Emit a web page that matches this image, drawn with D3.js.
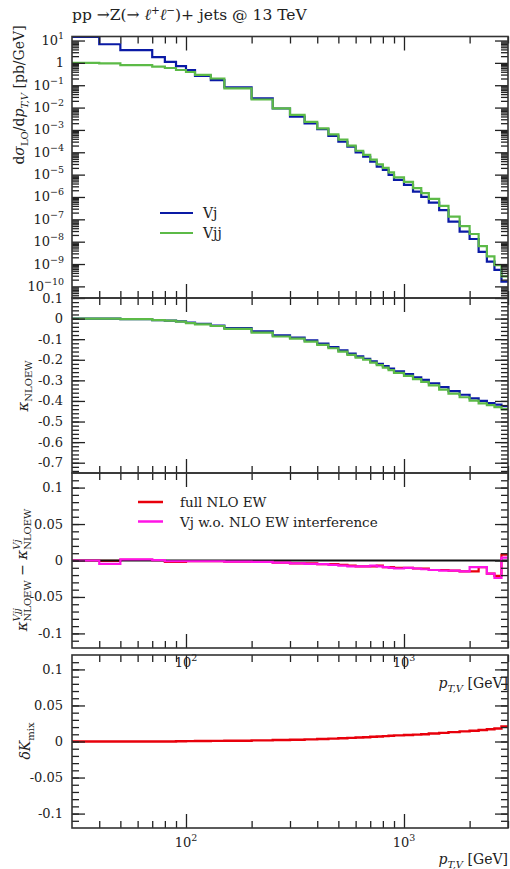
<!DOCTYPE html>
<html>
<head>
<meta charset="utf-8">
<script src="https://cdnjs.cloudflare.com/ajax/libs/d3/7.8.5/d3.min.js"></script>
<style>
body { margin: 0; background: #fff; }
text { font-family: "DejaVu Serif", "Liberation Serif", serif; fill: #222; white-space: pre; }
</style>
</head>
<body>
<div id="chart"></div>
<script>
var width = 510;
var height = 869;

// bin edges in pT,V [GeV]
var edges = [30, 40, 50, 70, 80, 90, 100, 110, 130, 150, 200, 250, 300, 350, 400, 450, 500, 550, 600,
    650, 700, 750, 800, 850, 900, 1000, 1100, 1200, 1300, 1450, 1600, 1800, 2000, 2200, 2400, 2600, 2800, 3000];

// dsigma_LO / dpT [pb/GeV]
var xsecVj = [14.5, 6.8, 3.7, 1.8, 1.1, 0.72, 0.48, 0.26, 0.17, 0.081, 0.026, 9.1e-3, 3.9e-3, 1.95e-3,
    1.07e-3, 5.4e-4, 2.95e-4, 1.78e-4, 1.0e-4, 6.3e-5, 3.8e-5, 2.3e-5, 1.62e-5, 9.8e-6, 5.8e-6, 3.5e-6,
    1.74e-6, 1.02e-6, 5.6e-7, 2.6e-7, 7.9e-8, 2.8e-8, 1.32e-8, 3.5e-9, 1.29e-9, 5.5e-10, 1.62e-10];
var xsecVjj = [1.0, 0.95, 0.79, 0.68, 0.59, 0.48, 0.39, 0.29, 0.2, 0.072, 0.023, 9.3e-3, 4.7e-3, 2.3e-3,
    1.17e-3, 6.3e-4, 3.7e-4, 2.0e-4, 1.17e-4, 7.6e-5, 4.7e-5, 2.9e-5, 2.0e-5, 1.26e-5, 7.6e-6, 4.7e-6,
    2.5e-6, 1.48e-6, 8.3e-7, 4.0e-7, 1.32e-7, 5.0e-8, 2.2e-8, 6.3e-9, 2.2e-9, 8.9e-10, 2.8e-10];

// kappa NLO EW
var kappaVj = [0.0, 0.0, -0.003, -0.007, -0.01, -0.014, -0.02, -0.026, -0.034, -0.046, -0.062, -0.082,
    -0.092, -0.106, -0.122, -0.138, -0.154, -0.17, -0.184, -0.195, -0.208, -0.22, -0.231, -0.243, -0.256,
    -0.27, -0.285, -0.298, -0.314, -0.333, -0.352, -0.37, -0.388, -0.4, -0.41, -0.418, -0.425];
var kappaVjj = [0.0, 0.0, -0.003, -0.007, -0.01, -0.015, -0.022, -0.028, -0.036, -0.05, -0.068, -0.087,
    -0.097, -0.112, -0.128, -0.144, -0.16, -0.176, -0.19, -0.2, -0.214, -0.226, -0.238, -0.25, -0.264,
    -0.278, -0.294, -0.307, -0.324, -0.345, -0.364, -0.382, -0.398, -0.412, -0.42, -0.43, -0.44];

// kappa(Vjj) - kappa(Vj)
var diffFull = [0, -0.0005, 0.001, 0.0005, -0.002, -0.002, -0.001, -0.001, -0.001, -0.0015, -0.002, -0.003,
    -0.004, -0.004, -0.005, -0.005, -0.006, -0.007, -0.008, -0.008, -0.008, -0.007, -0.009, -0.009, -0.01,
    -0.01, -0.011, -0.011, -0.013, -0.013, -0.014, -0.015, -0.015, -0.009, -0.018, -0.021, 0.008];
var diffNoInt = [0, -0.0045, 0.0015, 0.0005, -0.001, -0.001, -0.001, -0.001, -0.001, -0.0015, -0.002, -0.003,
    -0.004, -0.0045, -0.005, -0.006, -0.007, -0.008, -0.008, -0.008, -0.007, -0.008, -0.009, -0.01, -0.011,
    -0.01, -0.011, -0.012, -0.013, -0.014, -0.014, -0.015, -0.009, -0.009, -0.018, -0.024, 0.004];

// delta K_mix
var deltaKmix = [0, 0, 0, 0, 0, 0.0003, 0.0005, 0.0006, 0.0008, 0.001, 0.0015, 0.002, 0.0025, 0.003,
    0.0035, 0.004, 0.0045, 0.005, 0.0055, 0.006, 0.0065, 0.007, 0.0075, 0.008, 0.0085, 0.009, 0.0095,
    0.01, 0.011, 0.012, 0.013, 0.014, 0.015, 0.016, 0.017, 0.018, 0.021];

var xMajor = [100, 1000];
var xMinor = [40, 50, 60, 70, 80, 90, 200, 300, 400, 500, 600, 700, 800, 900, 2000, 3000];

var blue = "#0a1aa5", green = "#5cba47", red = "#e8000b", magenta = "#ff14e6";

var left = 72, right = 508;
var x = d3.scaleLog().domain([30, 3000]).range([left, right]);

var y1 = d3.scaleLog().domain([Math.pow(10, -10.52), Math.pow(10, 1.18)]).range([298, 36.5]);
var y2 = d3.scaleLinear().domain([-0.75, 0.1]).range([473, 298]);
var y3 = d3.scaleLinear().domain([-0.12, 0.12]).range([648, 473]);
var y4 = d3.scaleLinear().domain([-0.12, 0.12]).range([828, 655]);

var svg = d3.select("#chart")
    .append("svg")
    .attr("width", width)
    .attr("height", height);

// place a string made of pieces (sub/superscripts); optional rotation
function richText(sel, px, py, rot, anchor, parts) {
    var g = sel.append("g").attr("transform", "translate(" + px + "," + py + ")" + (rot ? " rotate(" + rot + ")" : ""));
    var pos = 0, lastStart = 0, nodes = [];
    parts.forEach(function(p) {
        var start = p.stack ? lastStart : pos;
        var t = g.append("text")
            .attr("x", start)
            .attr("y", p.dy || 0)
            .style("font-size", p.size + "px")
            .style("font-style", p.italic ? "italic" : null)
            .text(p.t);
        var w = t.node().getComputedTextLength();
        if (p.stack) {
            pos = Math.max(pos, start + w);
        } else {
            lastStart = start;
            pos = start + w;
        }
        nodes.push(t);
    });
    var shift = anchor === "middle" ? -pos / 2 : (anchor === "end" ? -pos : 0);
    nodes.forEach(function(t) { t.attr("x", +t.attr("x") + shift); });
    return g;
}

function histPath(vals, y) {
    var pts = vals.map(function(v, i) { return [edges[i], v]; });
    pts.push([edges[edges.length - 1], vals[vals.length - 1]]);
    return d3.line()
        .x(function(d) { return x(d[0]); })
        .y(function(d) { return y(d[1]); })
        .curve(d3.curveStepAfter)(pts);
}

var panels = [
    {y: y1, top: 36.5, bottom: 298, id: "p1"},
    {y: y2, top: 298, bottom: 473, id: "p2"},
    {y: y3, top: 473, bottom: 648, id: "p3"},
    {y: y4, top: 655, bottom: 828, id: "p4"}
];

panels.forEach(function(p) {
    svg.append("clipPath").attr("id", "clip-" + p.id)
        .append("rect")
        .attr("x", left).attr("y", p.top)
        .attr("width", right - left).attr("height", p.bottom - p.top);
    p.g = svg.append("g").attr("clip-path", "url(#clip-" + p.id + ")");
});

// ---- data ----
function drawHist(g, vals, y, color, w) {
    g.append("path")
        .attr("d", histPath(vals, y))
        .attr("fill", "none")
        .attr("stroke", color)
        .attr("stroke-width", w || 2.2);
}

drawHist(panels[0].g, xsecVj, y1, blue);
drawHist(panels[0].g, xsecVjj, y1, green);

drawHist(panels[1].g, kappaVj, y2, blue);
drawHist(panels[1].g, kappaVjj, y2, green);

drawHist(panels[2].g, diffFull, y3, red);
panels[2].g.append("line")
    .attr("x1", left).attr("x2", right)
    .attr("y1", y3(0)).attr("y2", y3(0))
    .attr("stroke", "#111").attr("stroke-width", 2);
drawHist(panels[2].g, diffNoInt, y3, magenta);

drawHist(panels[3].g, deltaKmix, y4, red, 2.4);

// ---- axes / ticks ----
var yTickSets = [
    {major: d3.range(-10, 2).map(function(e) { return Math.pow(10, e); }),
     minor: (function() {
        var m = [];
        for (var e = -11; e <= 1; e++) for (var k = 2; k <= 9; k++) m.push(k * Math.pow(10, e));
        return m.filter(function(v) { return v > y1.domain()[0] && v < y1.domain()[1]; });
     })()},
    {major: [0.1, 0, -0.1, -0.2, -0.3, -0.4, -0.5, -0.6, -0.7],
     minor: d3.range(-37, 6).map(function(i) { return i * 0.02; })},
    {major: [0.1, 0.05, 0, -0.05, -0.1],
     minor: d3.range(-11, 12).map(function(i) { return i * 0.01; })},
    {major: [0.1, 0.05, 0, -0.05, -0.1],
     minor: d3.range(-11, 12).map(function(i) { return i * 0.01; })}
];

panels.forEach(function(p, i) {
    var ax = svg.append("g").attr("class", "axes");
    var ts = yTickSets[i];
    // x ticks, pointing inwards at top and bottom
    ax.append("g").attr("transform", "translate(0," + p.bottom + ")")
        .call(d3.axisBottom(x).tickValues(xMinor).tickSize(-7).tickFormat(""));
    ax.append("g").attr("transform", "translate(0," + p.bottom + ")")
        .call(d3.axisBottom(x).tickValues(xMajor).tickSize(-14).tickFormat(""));
    ax.append("g").attr("transform", "translate(0," + p.top + ")")
        .call(d3.axisTop(x).tickValues(xMinor).tickSize(-7).tickFormat(""));
    ax.append("g").attr("transform", "translate(0," + p.top + ")")
        .call(d3.axisTop(x).tickValues(xMajor).tickSize(-14).tickFormat(""));
    // y ticks on both sides
    ax.append("g").attr("transform", "translate(" + left + ",0)")
        .call(d3.axisLeft(p.y).tickValues(ts.minor).tickSize(-7).tickFormat(""));
    ax.append("g").attr("transform", "translate(" + left + ",0)")
        .call(d3.axisLeft(p.y).tickValues(ts.major).tickSize(-13).tickFormat(""));
    ax.append("g").attr("transform", "translate(" + right + ",0)")
        .call(d3.axisRight(p.y).tickValues(ts.minor).tickSize(-7).tickFormat(""));
    ax.append("g").attr("transform", "translate(" + right + ",0)")
        .call(d3.axisRight(p.y).tickValues(ts.major).tickSize(-13).tickFormat(""));
    ax.selectAll(".domain").remove();
    ax.selectAll("line").attr("stroke", "#222").attr("stroke-width", 1.3);

    svg.append("rect")
        .attr("x", left).attr("y", p.top)
        .attr("width", right - left).attr("height", p.bottom - p.top)
        .attr("fill", "none").attr("stroke", "#333").attr("stroke-width", 1.6);
});

// y tick labels
var lab = svg.append("g");
yTickSets[0].major.forEach(function(v) {
    var e = Math.round(Math.log10(v));
    if (e === 0) {
        richText(lab, 64, y1(v) + 4.5, 0, "end", [{t: "1", size: 13}]);
    } else {
        richText(lab, 64, y1(v) + 4.5, 0, "end",
            [{t: "10", size: 13}, {t: e < 0 ? "\u2212" + (-e) : "" + e, size: 9.5, dy: -6}]);
    }
});
[1, 2, 3].forEach(function(i) {
    var p = panels[i];
    yTickSets[i].major.forEach(function(v) {
        var s = v === 0 ? "0" : String(+v.toFixed(2));
        lab.append("text")
            .attr("x", 63).attr("y", p.y(v) + 4.5)
            .attr("text-anchor", "end")
            .style("font-size", "13px")
            .text(s);
    });
});

// x tick labels (panel 3 bottom, overlapping panel 4 top) and panel 4 bottom
[667, 847].forEach(function(yy) {
    xMajor.forEach(function(v) {
        richText(lab, x(v), yy, 0, "middle",
            [{t: "10", size: 13}, {t: String(Math.round(Math.log10(v))), size: 9.5, dy: -6}]);
    });
});
[688, 864].forEach(function(yy) {
    richText(lab, right, yy, 0, "end",
        [{t: "p", size: 14, italic: true}, {t: "T,V", size: 10, italic: true, dy: 3.5}, {t: " [GeV]", size: 14}]);
});

// title
richText(svg, left, 20, 0, "start", [
    {t: "pp \u2192Z(\u2192 ", size: 15.5},
    {t: "\u2113", size: 15.5, italic: true},
    {t: "+", size: 10.5, dy: -6.5},
    {t: "\u2113", size: 15.5, italic: true},
    {t: "\u2212", size: 10.5, dy: -6.5},
    {t: ")+ jets @ 13 TeV", size: 15.5}
]);

// y axis titles
richText(svg, 24, 95, -90, "middle", [
    {t: "d", size: 14}, {t: "\u03c3", size: 14, italic: true}, {t: "LO", size: 10, dy: 3.5},
    {t: "/d", size: 14}, {t: "p", size: 14, italic: true}, {t: "T,V", size: 10, italic: true, dy: 3.5},
    {t: " [pb/GeV]", size: 14}
]);
richText(svg, 28, 386, -90, "middle", [
    {t: "\u03ba", size: 15, italic: true}, {t: "NLOEW", size: 10, dy: 3.5}
]);
richText(svg, 27, 570, -90, "middle", [
    {t: "\u03ba", size: 15, italic: true}, {t: "NLOEW", size: 10, dy: 4},
    {t: "Vjj", size: 10, italic: true, dy: -7, stack: true},
    {t: " \u2212 ", size: 14},
    {t: "\u03ba", size: 15, italic: true}, {t: "NLOEW", size: 10, dy: 4},
    {t: "Vj", size: 10, italic: true, dy: -7, stack: true}
]);
richText(svg, 30, 741, -90, "middle", [
    {t: "\u03b4", size: 14, italic: true}, {t: "K", size: 14, italic: true}, {t: "mix", size: 10, dy: 3.5}
]);

// legends
var leg1 = [{name: "Vj", color: blue}, {name: "Vjj", color: green}];
leg1.forEach(function(d, i) {
    svg.append("line")
        .attr("x1", 160).attr("x2", 193)
        .attr("y1", 213 + i * 20).attr("y2", 213 + i * 20)
        .attr("stroke", d.color).attr("stroke-width", 2);
    svg.append("text")
        .attr("x", 203).attr("y", 218 + i * 20)
        .style("font-size", "14px")
        .text(d.name);
});
var leg3 = [{name: "full NLO EW", color: red}, {name: "Vj w.o. NLO EW interference", color: magenta}];
leg3.forEach(function(d, i) {
    svg.append("line")
        .attr("x1", 138).attr("x2", 163)
        .attr("y1", 502 + i * 19.5).attr("y2", 502 + i * 19.5)
        .attr("stroke", d.color).attr("stroke-width", 2.5);
    svg.append("text")
        .attr("x", 180).attr("y", 507 + i * 19.5)
        .style("font-size", "13.5px")
        .text(d.name);
});
</script>
</body>
</html>
